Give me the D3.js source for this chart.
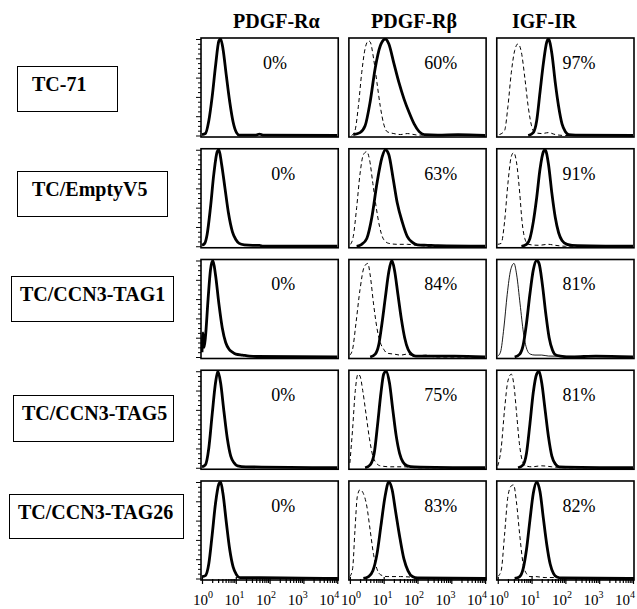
<!DOCTYPE html>
<html>
<head>
<meta charset="utf-8">
<script src="https://cdn.jsdelivr.net/npm/d3@7"></script>
<style>
  body { margin: 0; background: #fff; }
</style>
</head>
<body>
<section></section>
<script>
//Row and column names
const rowLabels = ["TC-71", "TC/EmptyV5", "TC/CCN3-TAG1", "TC/CCN3-TAG5", "TC/CCN3-TAG26"];
const markers = ["PDGF-R\u03b1", "PDGF-R\u03b2", "IGF-IR"];

//Percent of positive cells for every row / column
const percents = [
    ["0%", "60%", "97%"],
    ["0%", "63%", "91%"],
    ["0%", "84%", "81%"],
    ["0%", "75%", "81%"],
    ["0%", "83%", "82%"]
];

//Decade tick labels (exponents of 10)
const decades = [0, 1, 2, 3, 4];

//Histograms: [log10 fluorescence, relative count]
//Stained cells (thick line)
const stained = [
    [
        [[0,0.01],[0.1,0.02],[0.2,0.15],[0.3,0.4],[0.4,0.72],[0.5,0.98],[0.55,1],[0.62,0.9],[0.72,0.62],[0.82,0.35],[0.92,0.14],[1.02,0.03],[1.1,0.005],[1.6,0.005],[1.7,0.015],[1.8,0.005],[4,0]],
        [[0.1,0.01],[0.3,0.03],[0.45,0.1],[0.6,0.35],[0.75,0.7],[0.9,0.93],[1.05,1],[1.15,0.95],[1.3,0.75],[1.45,0.55],[1.6,0.38],[1.75,0.24],[1.9,0.12],[2.05,0.04],[2.2,0.01],[2.6,0.005],[3.2,0.01],[4,0]],
        [[0.9,0],[1.05,0.03],[1.15,0.15],[1.25,0.45],[1.35,0.75],[1.45,0.97],[1.5,1],[1.6,0.85],[1.7,0.55],[1.8,0.3],[1.9,0.12],[2.0,0.04],[2.1,0.01],[2.3,0.005],[4,0]]
    ],
    [
        [[0,0.01],[0.08,0.03],[0.15,0.12],[0.25,0.4],[0.35,0.75],[0.45,0.98],[0.5,1],[0.58,0.85],[0.68,0.6],[0.78,0.35],[0.9,0.15],[1.0,0.07],[1.1,0.03],[1.25,0.015],[1.5,0.01],[1.7,0.01],[1.8,0],[4,0]],
        [[0.2,0],[0.35,0.02],[0.5,0.08],[0.65,0.3],[0.8,0.65],[0.95,0.92],[1.05,1],[1.15,0.95],[1.28,0.7],[1.4,0.45],[1.55,0.25],[1.7,0.1],[1.85,0.04],[2.0,0.015],[2.3,0.01],[2.6,0.005],[4,0]],
        [[0.7,0],[0.85,0.02],[0.95,0.08],[1.05,0.25],[1.15,0.5],[1.25,0.8],[1.35,0.98],[1.4,1],[1.5,0.85],[1.6,0.55],[1.7,0.3],[1.8,0.14],[1.9,0.06],[2.05,0.02],[2.2,0.01],[4,0]]
    ],
    [
        [[0,0.05],[0.03,0.25],[0.06,0.1],[0.1,0.2],[0.18,0.6],[0.25,0.9],[0.32,1],[0.4,0.85],[0.5,0.55],[0.6,0.3],[0.7,0.15],[0.8,0.08],[0.9,0.05],[1.0,0.03],[1.2,0.02],[1.4,0.01],[1.6,0.005],[4,0]],
        [[0.6,0],[0.75,0.03],[0.85,0.12],[0.95,0.35],[1.05,0.62],[1.15,0.88],[1.24,1],[1.32,0.9],[1.42,0.65],[1.52,0.4],[1.62,0.2],[1.72,0.08],[1.82,0.03],[1.95,0.01],[2.2,0.01],[2.8,0.01],[3.1,0.01],[4,0]],
        [[0.5,0],[0.65,0.03],[0.75,0.12],[0.85,0.35],[0.95,0.65],[1.05,0.9],[1.15,1],[1.22,0.97],[1.32,0.75],[1.42,0.45],[1.52,0.2],[1.62,0.07],[1.72,0.02],[1.85,0.01],[2.2,0],[2.9,0.01],[4,0]]
    ],
    [
        [[0,0.01],[0.1,0.03],[0.2,0.2],[0.3,0.55],[0.4,0.88],[0.47,1],[0.55,0.88],[0.65,0.58],[0.75,0.3],[0.85,0.12],[0.95,0.05],[1.05,0.02],[1.3,0.01],[4,0]],
        [[0.45,0],[0.6,0.03],[0.72,0.15],[0.82,0.45],[0.92,0.78],[1.0,0.97],[1.07,1],[1.17,0.88],[1.27,0.6],[1.37,0.33],[1.47,0.15],[1.57,0.06],[1.7,0.02],[1.9,0.01],[4,0]],
        [[0.6,0],[0.75,0.03],[0.85,0.15],[0.95,0.45],[1.05,0.78],[1.15,0.97],[1.22,1],[1.3,0.88],[1.4,0.6],[1.5,0.32],[1.6,0.12],[1.7,0.04],[1.82,0.01],[4,0]]
    ],
    [
        [[0,0.02],[0.1,0.03],[0.2,0.15],[0.3,0.45],[0.4,0.78],[0.5,0.98],[0.55,1],[0.62,0.88],[0.72,0.58],[0.82,0.3],[0.92,0.12],[1.02,0.04],[1.12,0.01],[1.5,0.01],[1.7,0.01],[4,0]],
        [[0.4,0],[0.55,0.02],[0.68,0.08],[0.8,0.25],[0.92,0.55],[1.04,0.85],[1.15,1],[1.25,0.92],[1.35,0.7],[1.48,0.42],[1.6,0.2],[1.72,0.08],[1.85,0.02],[2.0,0.005],[4,0]],
        [[0.5,0],[0.65,0.02],[0.75,0.1],[0.85,0.3],[0.95,0.6],[1.05,0.88],[1.15,1],[1.25,0.9],[1.35,0.62],[1.45,0.35],[1.55,0.15],[1.65,0.05],[1.75,0.015],[1.9,0.005],[4,0]]
    ]
];

//Isotype controls (dashed, thin solid in TAG1 / IGF-IR). None for PDGF-Ra
const controls = [
    [
        null,
        [[0.05,0],[0.15,0.05],[0.25,0.3],[0.35,0.65],[0.45,0.9],[0.55,0.98],[0.6,0.97],[0.7,0.8],[0.8,0.55],[0.9,0.3],[1.0,0.12],[1.1,0.04],[1.3,0.02],[1.5,0.01],[1.7,0.02],[2.0,0.005],[4,0]],
        [[0.05,0.01],[0.2,0.05],[0.3,0.3],[0.4,0.65],[0.5,0.88],[0.6,0.95],[0.7,0.86],[0.8,0.6],[0.9,0.3],[1.0,0.1],[1.1,0.03],[1.3,0.02],[1.5,0.03],[1.7,0.01],[2,0],[4,0]]
    ],
    [
        null,
        [[0.02,0.02],[0.1,0.1],[0.2,0.4],[0.3,0.75],[0.4,0.95],[0.5,0.98],[0.58,0.9],[0.68,0.65],[0.78,0.4],[0.88,0.2],[1.0,0.07],[1.15,0.03],[1.4,0.02],[1.7,0.02],[2.0,0.01],[2.3,0],[4,0]],
        [[0,0.02],[0.1,0.03],[0.2,0.25],[0.3,0.65],[0.4,0.93],[0.47,0.97],[0.55,0.88],[0.65,0.55],[0.72,0.25],[0.8,0.08],[0.9,0.02],[1.2,0.01],[1.5,0.02],[1.7,0.01],[2,0],[4,0]]
    ],
    [
        null,
        [[0,0.02],[0.08,0.08],[0.18,0.35],[0.3,0.7],[0.42,0.93],[0.53,0.97],[0.6,0.85],[0.7,0.55],[0.8,0.3],[0.9,0.15],[1.0,0.08],[1.1,0.04],[1.3,0.03],[1.5,0.02],[1.7,0.03],[1.9,0.01],[2.3,0.02],[2.5,0],[4,0]],
        [[0,0.01],[0.08,0.05],[0.18,0.3],[0.28,0.65],[0.38,0.9],[0.48,0.97],[0.56,0.85],[0.66,0.55],[0.76,0.25],[0.86,0.08],[0.96,0.03],[1.1,0.02],[1.3,0.02],[1.5,0.01],[4,0]]
    ],
    [
        null,
        [[0,0.05],[0.08,0.4],[0.16,0.8],[0.24,0.97],[0.3,0.95],[0.38,0.8],[0.48,0.55],[0.58,0.3],[0.68,0.12],[0.78,0.05],[0.9,0.02],[1.2,0.01],[1.6,0.01],[2.0,0],[4,0]],
        [[0,0.02],[0.1,0.2],[0.2,0.6],[0.3,0.9],[0.4,0.97],[0.48,0.85],[0.56,0.55],[0.64,0.25],[0.72,0.08],[0.82,0.02],[1.0,0.01],[1.3,0.02],[1.6,0.01],[2,0],[4,0]]
    ],
    [
        null,
        [[0,0.02],[0.08,0.1],[0.15,0.5],[0.22,0.85],[0.3,0.92],[0.4,0.88],[0.5,0.75],[0.6,0.5],[0.7,0.25],[0.8,0.1],[0.9,0.04],[1.1,0.02],[1.5,0.02],[2,0.01],[2.5,0.005],[4,0]],
        [[0,0.02],[0.1,0.08],[0.2,0.45],[0.3,0.85],[0.4,0.96],[0.47,0.97],[0.55,0.8],[0.65,0.45],[0.75,0.15],[0.85,0.05],[0.95,0.02],[1.1,0.02],[1.4,0.01],[1.7,0.01],[2,0],[4,0]]
    ]
];

//Layout
const width = 637;
const height = 609;
const serif = "'Liberation Serif', 'Times New Roman', Times, serif";

//Row label boxes: [x, y, w, h]
const labelBoxes = [[17, 66, 100, 45], [17, 171, 150, 45], [11, 276, 162, 45], [13, 395, 160, 46], [9, 494, 174, 44]];
const headerX = [233, 371, 512];

let svg = d3
    .select("section")
    .append("svg")
    .attr("width", width)
    .attr("height", height)
    .attr("font-family", serif);

//Grid scales for the panels
const colScale = d3.scaleBand().domain(d3.range(3)).range([201, 634]).paddingInner(0.072);
const rowScale = d3.scaleBand().domain(d3.range(5)).range([38, 580]).paddingInner(0.106);

const line = d3.line().curve(d3.curveMonotoneX);

//Column headers
svg.selectAll(".header")
    .data(markers)
    .enter()
    .append("text")
    .attr("class", "header")
    .attr("x", (d, i) => headerX[i])
    .attr("y", 28)
    .attr("font-family", serif)
    .attr("font-size", "20px")
    .attr("font-weight", "bold")
    .text(d => d);

//Row labels with their boxes
rowLabels.forEach(function (label, r) {
    const b = labelBoxes[r];
    svg.append("rect")
        .attr("x", b[0] + 0.5)
        .attr("y", b[1] + 0.5)
        .attr("width", b[2])
        .attr("height", b[3])
        .attr("fill", "none")
        .attr("stroke", "black")
        .attr("stroke-width", 1);

    const padLeft = r < 2 ? 15 : 9;
    svg.append("text")
        .attr("x", b[0] + padLeft)
        .attr("y", b[1] + 25)
        .attr("font-family", serif)
        .attr("font-size", "20px")
        .attr("font-weight", "bold")
        .text(label);
});

//Draw each histogram panel
rowLabels.forEach(function (label, r) {
    markers.forEach(function (marker, c) {
        const x0 = colScale(c);
        const y0 = rowScale(r);
        const w = colScale.bandwidth();
        const h = rowScale.bandwidth();

        const x = d3.scaleLog().domain([1, 10000]).range([x0 + 1, x0 + w - 1]);
        const y = d3.scaleLinear().domain([0, 1]).range([y0 + h - 1.5, y0 + 1]);

        const g = svg.append("g");
        const clipId = "clip-" + r + "-" + c;
        g.append("clipPath")
            .attr("id", clipId)
            .append("rect")
            .attr("x", x0)
            .attr("y", y0)
            .attr("width", w)
            .attr("height", h);

        const toXY = pts => pts.map(p => [x(Math.pow(10, p[0])), y(p[1])]);

        //Control histogram
        const ctrl = controls[r][c];
        if (ctrl) {
            const thin = (r === 2 && c === 2);
            g.append("path")
                .attr("clip-path", "url(#" + clipId + ")")
                .attr("d", line(toXY(ctrl)))
                .attr("fill", "none")
                .attr("stroke", "black")
                .attr("stroke-width", thin ? 0.9 : 1)
                .attr("stroke-dasharray", thin ? null : "4,3");
        }

        //Stained histogram
        g.append("path")
            .attr("clip-path", "url(#" + clipId + ")")
            .attr("d", line(toXY(stained[r][c])))
            .attr("fill", "none")
            .attr("stroke", "black")
            .attr("stroke-width", 2.8)
            .attr("stroke-linejoin", "round");

        //Panel frame
        g.append("rect")
            .attr("x", x0)
            .attr("y", y0)
            .attr("width", w)
            .attr("height", h)
            .attr("fill", "none")
            .attr("stroke", "black")
            .attr("stroke-width", 1.6);

        //Percent positive
        const pctX = [0.6, 0.67, 0.6][c];
        g.append("text")
            .attr("x", x0 + w * (r === 0 && c === 0 ? 0.54 : pctX))
            .attr("y", y0 + 31)
            .attr("text-anchor", "middle")
            .attr("font-family", serif)
            .attr("font-size", "18px")
            .text(percents[r][c]);

        //Count axis on the first column
        if (c === 0) {
            const yAxis = d3.axisLeft(y)
                .tickValues(d3.range(0, 1.001, 0.05))
                .tickFormat("")
                .tickSize(3);
            const ya = g.append("g")
                .attr("transform", "translate(" + x0 + ",0)")
                .call(yAxis);
            ya.select(".domain").remove();
            ya.selectAll(".tick line")
                .attr("x2", (d, i) => i % 4 === 0 ? -5 : -3)
                .attr("stroke-width", 1);
        }

        //Log fluorescence axis under the last row
        if (r === rowLabels.length - 1) {
            const minor = [];
            decades.slice(0, -1).forEach(function (k) {
                d3.range(1, 10).forEach(m => minor.push(m * Math.pow(10, k)));
            });
            minor.push(10000);
            const xAxis = d3.axisBottom(x)
                .tickValues(minor)
                .tickFormat("")
                .tickSize(3);
            const xa = g.append("g")
                .attr("transform", "translate(0," + (y0 + h) + ")")
                .call(xAxis);
            xa.select(".domain").remove();
            xa.selectAll(".tick line")
                .attr("y1", d => Number.isInteger(Math.log10(d)) ? -3 : -1)
                .attr("y2", d => Number.isInteger(Math.log10(d)) ? 4 : 3)
                .attr("stroke-width", 1.2);

            //Decade labels 10^k, packed slightly inside the panel width
            const labelScale = d3.scaleLinear().domain([0, 4]).range([x0 + 2, x0 + w - 9]);
            const lab = g.selectAll(".dec")
                .data(decades)
                .enter()
                .append("text")
                .attr("class", "dec")
                .attr("x", d => labelScale(d))
                .attr("y", 605)
                .attr("text-anchor", "middle")
                .attr("font-family", serif)
                .attr("font-size", "15px");
            lab.append("tspan").text("10");
            lab.append("tspan")
                .attr("dy", -7)
                .attr("font-size", "10px")
                .text(d => d);
        }
    });
});
</script>
</body>
</html>
